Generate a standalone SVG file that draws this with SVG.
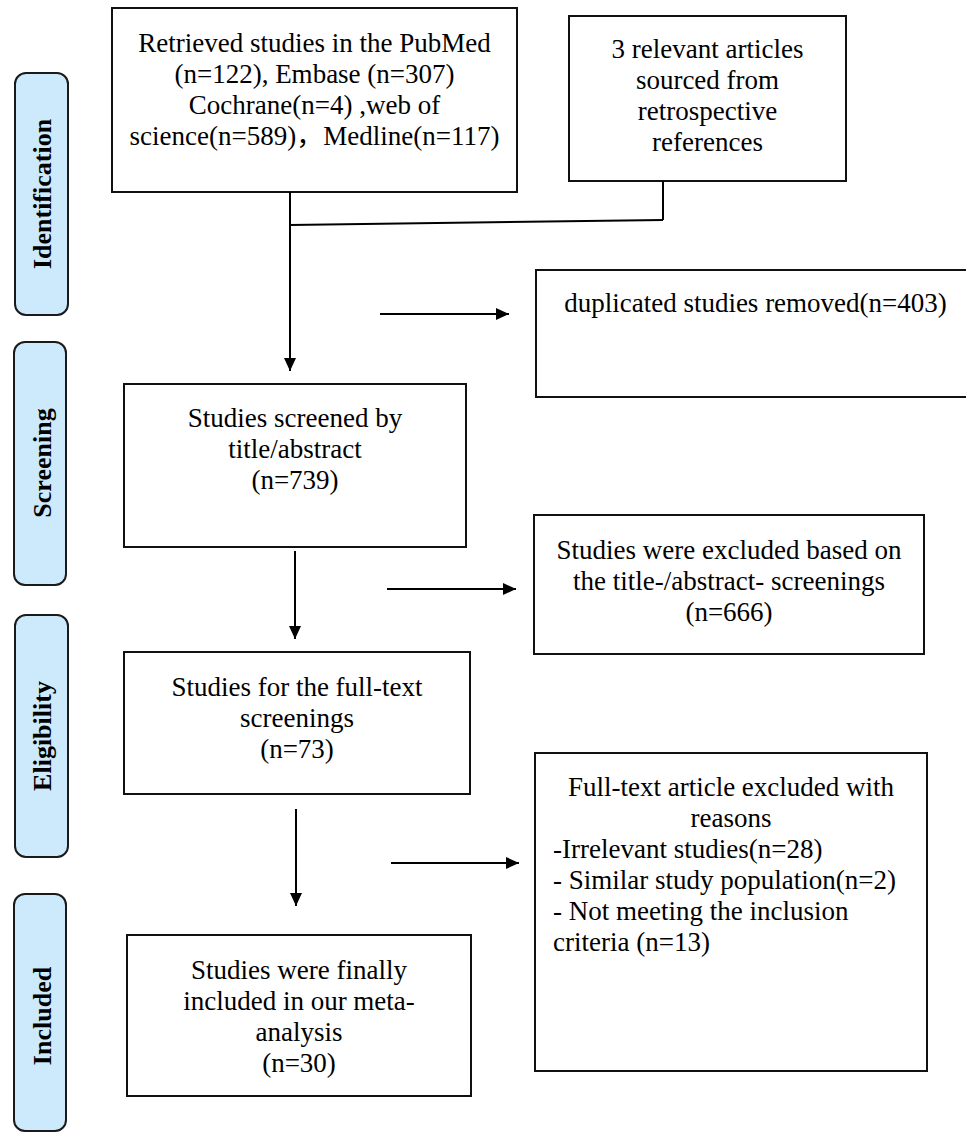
<svg xmlns="http://www.w3.org/2000/svg" width="966" height="1132" viewBox="0 0 966 1132">
<style>
.box{fill:#fff;stroke:#111;stroke-width:2}
.pill{fill:#cde9fc;stroke:#1a1a1a;stroke-width:2}
.t{font-family:"Liberation Serif","Times New Roman",serif;font-size:27px;fill:#000}
.c{text-anchor:middle}
.p{font-family:"Liberation Serif","Times New Roman",serif;font-size:26px;font-weight:bold;fill:#000;text-anchor:middle}
.ln{stroke:#000;stroke-width:2;fill:none}
</style>
<defs>
<marker id="ah" markerUnits="userSpaceOnUse" markerWidth="14" markerHeight="13" refX="13" refY="6" orient="auto">
<path d="M0,0 L13,6 L0,12 z" fill="#000"/>
</marker>
</defs>
<rect width="966" height="1132" fill="#fff"/>

<g id="phase-identification">
<rect class="pill" x="15" y="73" width="53" height="242" rx="11"/>
<text class="p" transform="translate(51,194) rotate(-90)">Identification</text>
</g>
<g id="phase-screening">
<rect class="pill" x="14" y="342" width="52" height="243" rx="11"/>
<text class="p" transform="translate(51,463) rotate(-90)">Screening</text>
</g>
<g id="phase-eligibility">
<rect class="pill" x="15" y="615" width="53" height="242" rx="11"/>
<text class="p" transform="translate(51,736) rotate(-90)">Eligibility</text>
</g>
<g id="phase-included">
<rect class="pill" x="14" y="894" width="52" height="237" rx="11"/>
<text class="p" transform="translate(51,1016) rotate(-90)">Included</text>
</g>

<g id="retrieved">
<rect class="box" x="112" y="8" width="405" height="184"/>
<text class="t c" x="314.5" y="52">Retrieved studies in the PubMed</text>
<text class="t c" x="314.5" y="83">(n=122), Embase (n=307)</text>
<text class="t c" x="314.5" y="114">Cochrane(n=4) ,web of</text>
<text class="t c" x="314.5" y="145" style="font-family:'Liberation Serif','Noto Sans CJK SC',serif">science(n=589)，Medline(n=117)</text>
</g>

<g id="references">
<rect class="box" x="569" y="16" width="277" height="165"/>
<text class="t c" x="707.5" y="58">3 relevant articles</text>
<text class="t c" x="707.5" y="89">sourced from</text>
<text class="t c" x="707.5" y="120">retrospective</text>
<text class="t c" x="707.5" y="151">references</text>
</g>

<g id="duplicates">
<rect class="box" x="536" y="270" width="440" height="127"/>
<text class="t c" x="755.5" y="312">duplicated studies removed(n=403)</text>
</g>

<g id="screened">
<rect class="box" x="124" y="384" width="342" height="163"/>
<text class="t c" x="295" y="427">Studies screened by</text>
<text class="t c" x="295" y="458">title/abstract</text>
<text class="t c" x="295" y="489">(n=739)</text>
</g>

<g id="excluded-title">
<rect class="box" x="534" y="515" width="390" height="139"/>
<text class="t c" x="729" y="559">Studies were excluded based on</text>
<text class="t c" x="729" y="590">the title-/abstract- screenings</text>
<text class="t c" x="729" y="621">(n=666)</text>
</g>

<g id="fulltext">
<rect class="box" x="124" y="652" width="346" height="142"/>
<text class="t c" x="297" y="696">Studies for the full-text</text>
<text class="t c" x="297" y="727">screenings</text>
<text class="t c" x="297" y="758">(n=73)</text>
</g>

<g id="excluded-fulltext">
<rect class="box" x="535" y="753" width="392" height="318"/>
<text class="t c" x="731" y="796">Full-text article excluded with</text>
<text class="t c" x="731" y="827">reasons</text>
<text class="t" x="553" y="858">-Irrelevant studies(n=28)</text>
<text class="t" x="553" y="889">- Similar study population(n=2)</text>
<text class="t" x="553" y="920">- Not meeting the inclusion</text>
<text class="t" x="553" y="951">criteria (n=13)</text>
</g>

<g id="included">
<rect class="box" x="127" y="935" width="344" height="161"/>
<text class="t c" x="299" y="979">Studies were finally</text>
<text class="t c" x="299" y="1010">included in our meta-</text>
<text class="t c" x="299" y="1041">analysis</text>
<text class="t c" x="299" y="1072">(n=30)</text>
</g>

<g id="connectors">
<line class="ln" x1="663" y1="181" x2="663" y2="220"/>
<line class="ln" x1="290" y1="225" x2="663" y2="220"/>
<line class="ln" x1="290" y1="192" x2="290" y2="371" marker-end="url(#ah)"/>
<line class="ln" x1="380" y1="314" x2="509" y2="314" marker-end="url(#ah)"/>
<line class="ln" x1="295" y1="551" x2="295" y2="639" marker-end="url(#ah)"/>
<line class="ln" x1="387" y1="589" x2="516" y2="589" marker-end="url(#ah)"/>
<line class="ln" x1="296" y1="809" x2="296" y2="906" marker-end="url(#ah)"/>
<line class="ln" x1="391" y1="863" x2="519" y2="863" marker-end="url(#ah)"/>
</g>
</svg>
